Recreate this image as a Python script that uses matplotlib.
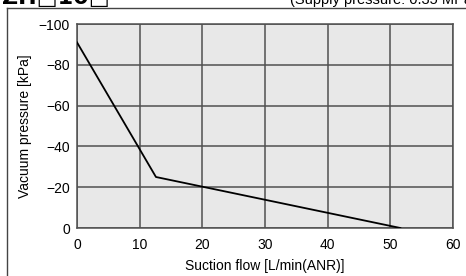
import matplotlib
matplotlib.use("Agg")
import matplotlib.pyplot as plt
from matplotlib.lines import Line2D

flow = [0, 12.6, 51.6]
vacuum = [-91, -25, 0]
x_ticks = [0, 10, 20, 30, 40, 50, 60]
y_ticks = [0, -20, -40, -60, -80, -100]

plt.rcParams['font.family'] = ['Liberation Sans', 'DejaVu Sans']

fig = plt.figure(figsize=(4.66, 2.76), dpi=100)
ax = fig.add_axes([77/466, 1-228/276, (453-77)/466, (228-24)/276])
ax.set_facecolor('#e8e8e8')
ax.plot(flow, vacuum, color='black', lw=1.3, zorder=3)
ax.set_xlim(0, 60)
ax.set_ylim(0, -100)
ax.set_xticks(x_ticks)
ax.set_yticks(y_ticks)
ax.set_yticklabels(['0', '\u221220', '\u221240', '\u221260', '\u221280', '\u2212100'])
ax.grid(True, color='#505050', lw=1.1, zorder=1)
ax.set_axisbelow(True)
for s in ax.spines.values():
    s.set_color('#505050')
    s.set_linewidth(1.1)
ax.tick_params(length=0, labelsize=10, pad=5)
ax.tick_params(axis='x', pad=7)
ax.set_xlabel('Suction flow [L/min(ANR)]', fontsize=10, labelpad=5)
ax.set_ylabel('Vacuum pressure [kPa]', fontsize=10, labelpad=5)

# outer frame
fig.add_artist(Line2D([7/466, 7/466], [0, 1-8/276], transform=fig.transFigure, color='#444444', lw=1.0))
fig.add_artist(Line2D([7/466, 1], [1-8/276, 1-8/276], transform=fig.transFigure, color='#444444', lw=1.0))

fig.text(2/466, 1-4/276, 'ZH\u25a110\u25a1', fontsize=16, fontweight='bold', va='baseline', ha='left',
         family=['DejaVu Sans'])
fig.text(290/466, 1-4/276, '(Supply pressure: 0.35 MPa)', fontsize=10.5, va='baseline', ha='left')

fig.savefig('out.png', dpi=100)
